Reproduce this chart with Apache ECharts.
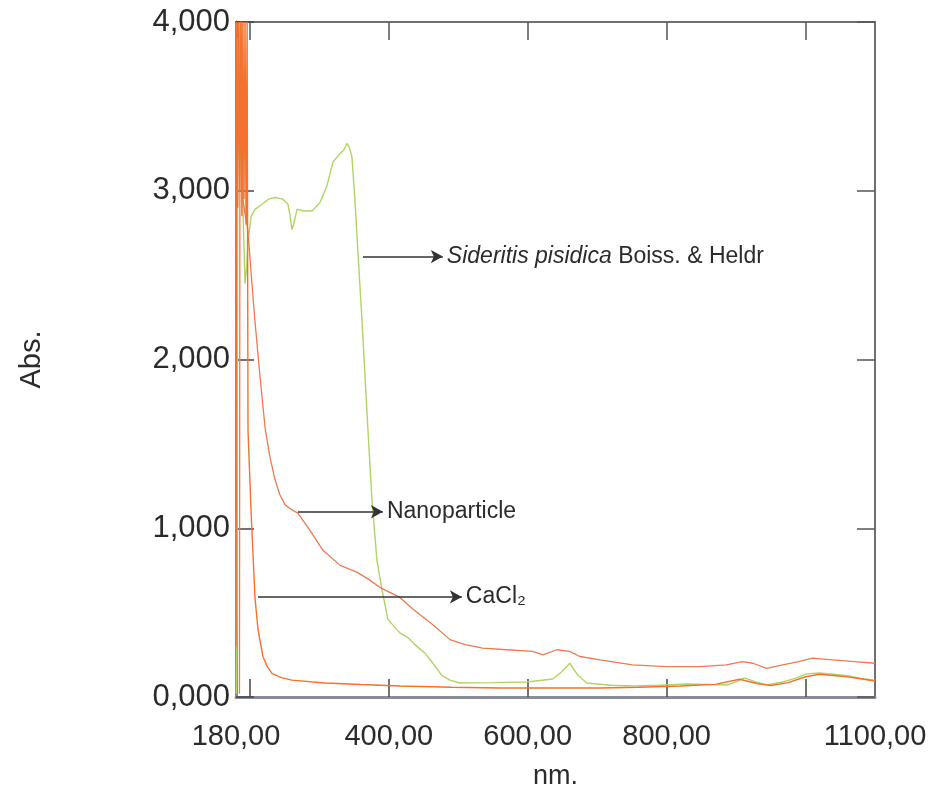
<!DOCTYPE html>
<html>
<head>
<meta charset="utf-8">
<title>Abs. vs nm.</title>
<script src="https://cdn.jsdelivr.net/npm/echarts@6/dist/echarts.min.js"></script>
<style>
  html, body { margin: 0; padding: 0; background: #ffffff; }
  #chart { width: 932px; height: 791px; }
</style>
</head>
<body>
<div id="chart"></div>
<script>
  // [nm, Abs] pairs
  const sideritis = [
    [180.5, 0.02], [181.5, 0.5], [182.5, 3.9], [186, 3.3], [190, 2.9], [193, 2.45], [195.5, 2.55],
    [197.3, 2.71], [202, 2.85], [207.3, 2.89], [217.4, 2.92], [227, 2.95], [236, 2.96], [247.6, 2.95],
    [254.8, 2.92], [258, 2.85], [260.6, 2.77], [263, 2.8], [267.8, 2.89], [278, 2.88], [289.4, 2.88],
    [300.9, 2.93], [311, 3.03], [319.6, 3.17], [329.6, 3.22], [335, 3.24], [339.7, 3.28], [343, 3.26],
    [346.9, 3.2], [351.2, 2.95], [355.5, 2.64], [361.3, 2.24], [368.5, 1.69], [375.7, 1.17], [382.9, 0.81],
    [390, 0.64], [398.7, 0.46], [416, 0.38], [428, 0.35], [440.4, 0.3], [452, 0.26], [463.5, 0.2],
    [476, 0.13], [487.9, 0.1], [502.3, 0.083], [550, 0.085], [598.7, 0.089], [636, 0.107], [649, 0.15],
    [660.6, 0.2], [672, 0.13], [685, 0.083], [720, 0.07], [751, 0.065], [790, 0.07], [829, 0.077],
    [860, 0.075], [886.5, 0.071], [900, 0.09], [912, 0.113], [928, 0.09], [944, 0.071], [967, 0.089],
    [985, 0.11], [1001.6, 0.137], [1020, 0.142], [1040, 0.135], [1063, 0.125], [1080, 0.11], [1100, 0.1]
  ];

  const nanoparticle = [
    [185, 0.02], [185.8, 4.0], [187, 3.4], [188.5, 4.0], [190, 2.95], [193.5, 2.85], [197, 2.77],
    [202, 2.5], [207, 2.24], [215, 1.88], [222, 1.59], [229, 1.42], [236, 1.29], [243, 1.2],
    [250.5, 1.14], [260, 1.11], [269, 1.09], [286, 0.99], [305, 0.87], [330, 0.78], [354, 0.74],
    [370, 0.7], [387, 0.65], [416, 0.59], [435, 0.52], [463, 0.43], [488, 0.34], [510, 0.31],
    [535, 0.29], [570, 0.28], [607, 0.27], [622, 0.25], [642, 0.28], [660, 0.27], [675, 0.24],
    [704, 0.22], [751, 0.19], [800, 0.18], [829, 0.18], [848, 0.18], [886, 0.19], [909, 0.21],
    [924, 0.2], [944, 0.17], [967, 0.19], [990, 0.21], [1010, 0.23], [1039, 0.22], [1070, 0.21],
    [1100, 0.2]
  ];

  const cacl2 = [
    [180, 0.3], [181, 4.0], [182.5, 2.9], [184, 4.0], [185.5, 3.0], [187, 4.0], [188.5, 2.85],
    [190, 4.0], [191.5, 2.95], [193, 4.0], [194.5, 2.8], [196, 4.0], [197.3, 1.58], [201.6, 1.11],
    [207.3, 0.59], [211.7, 0.4], [218.8, 0.24], [225, 0.18], [231.8, 0.14], [245, 0.115], [260.6, 0.1],
    [308, 0.083], [360, 0.074], [416, 0.065], [490, 0.058], [560, 0.053], [630, 0.053],
    [704, 0.053], [760, 0.058], [820, 0.065], [870, 0.075], [905, 0.105], [930, 0.08],
    [950, 0.068], [975, 0.085], [1000, 0.12], [1020, 0.135], [1060, 0.12], [1100, 0.095]
  ];

  const xTicks = [200, 400, 600, 800, 1000];
  const xLabels = [180, 400, 600, 800, 1100];

  // arrows: [from nm, to nm, Abs]
  const sideritisArrow = [362.7, 477.8, 2.61];
  const nanoArrow = [269.2, 391.5, 1.098];
  const cacl2Arrow = [211.7, 505.2, 0.593];

  const font = '"Liberation Sans", Arial, sans-serif';
  const textColor = '#2b2b2b';

  function arrow(a, formatter, rich) {
    return {
      silent: true,
      animation: false,
      symbol: ['none', 'arrow'],
      symbolSize: [10, 12],
      lineStyle: {color: '#333333', width: 1.5, type: 'solid'},
      label: {
        show: true,
        position: 'end',
        distance: 4,
        formatter: formatter,
        color: textColor,
        fontFamily: font,
        fontSize: 23,
        rich: rich
      },
      data: [[{coord: [a[0], a[2]]}, {coord: [a[1], a[2]]}]]
    };
  }

  const chart = echarts.init(document.getElementById('chart'));

  const option = {
    backgroundColor: '#ffffff',
    animation: false,
    grid: {left: 236, right: 57, top: 22, bottom: 94, outerBoundsMode: 'none'},
    xAxis: [{
      type: 'value',
      min: 180,
      max: 1100,
      name: 'nm.',
      nameLocation: 'middle',
      nameGap: 66,
      nameTextStyle: {fontSize: 27, color: textColor, fontFamily: font},
      splitLine: {show: false},
      axisLine: {onZero: false, lineStyle: {color: '#8a8d98', width: 3}},
      axisTick: {inside: true, length: 18, customValues: xTicks, lineStyle: {color: '#444444', width: 1.5}},
      axisLabel: {
        customValues: xLabels,
        margin: 25,
        fontSize: 29,
        color: textColor,
        fontFamily: font,
        formatter: v => v.toFixed(2).replace('.', ',')
      }
    }, {
      type: 'value',
      position: 'top',
      min: 180,
      max: 1100,
      splitLine: {show: false},
      axisLine: {show: true, onZero: false, lineStyle: {color: '#707070', width: 2}},
      axisTick: {inside: true, length: 18, customValues: xTicks, lineStyle: {color: '#555555', width: 1.5}},
      axisLabel: {show: false}
    }],
    yAxis: [{
      type: 'value',
      min: 0,
      max: 4,
      interval: 1,
      name: 'Abs.',
      nameLocation: 'middle',
      nameGap: 190,
      nameTextStyle: {fontSize: 29, color: textColor, fontFamily: font},
      splitLine: {show: false},
      axisLine: {show: true, onZero: false, lineStyle: {color: '#8a8d98', width: 3}},
      axisTick: {inside: true, length: 18, lineStyle: {color: '#444444', width: 1.5}},
      axisLabel: {
        margin: 6,
        fontSize: 31,
        color: textColor,
        fontFamily: font,
        formatter: v => v.toFixed(3).replace('.', ',')
      }
    }, {
      type: 'value',
      position: 'right',
      min: 0,
      max: 4,
      interval: 1,
      splitLine: {show: false},
      axisLine: {show: true, onZero: false, lineStyle: {color: '#707070', width: 2}},
      axisTick: {inside: true, length: 18, lineStyle: {color: '#555555', width: 1.5}},
      axisLabel: {show: false}
    }],
    series: [{
      name: 'Sideritis pisidica',
      type: 'line',
      data: sideritis,
      showSymbol: false,
      lineStyle: {color: '#b0d464', width: 1.4},
      markLine: arrow(sideritisArrow, '{i|Sideritis pisidica} Boiss. & Heldr', {
        i: {fontStyle: 'italic', fontSize: 23, fontFamily: font, color: textColor}
      })
    }, {
      name: 'Nanoparticle',
      type: 'line',
      data: nanoparticle,
      showSymbol: false,
      lineStyle: {color: '#ea7b52', width: 1.3},
      markLine: arrow(nanoArrow, 'Nanoparticle')
    }, {
      name: 'CaCl2',
      type: 'line',
      data: cacl2,
      showSymbol: false,
      lineStyle: {color: '#f2722e', width: 1.4},
      markLine: arrow(cacl2Arrow, 'CaCl₂')
    }]
  };

  chart.setOption(option);
</script>
</body>
</html>
